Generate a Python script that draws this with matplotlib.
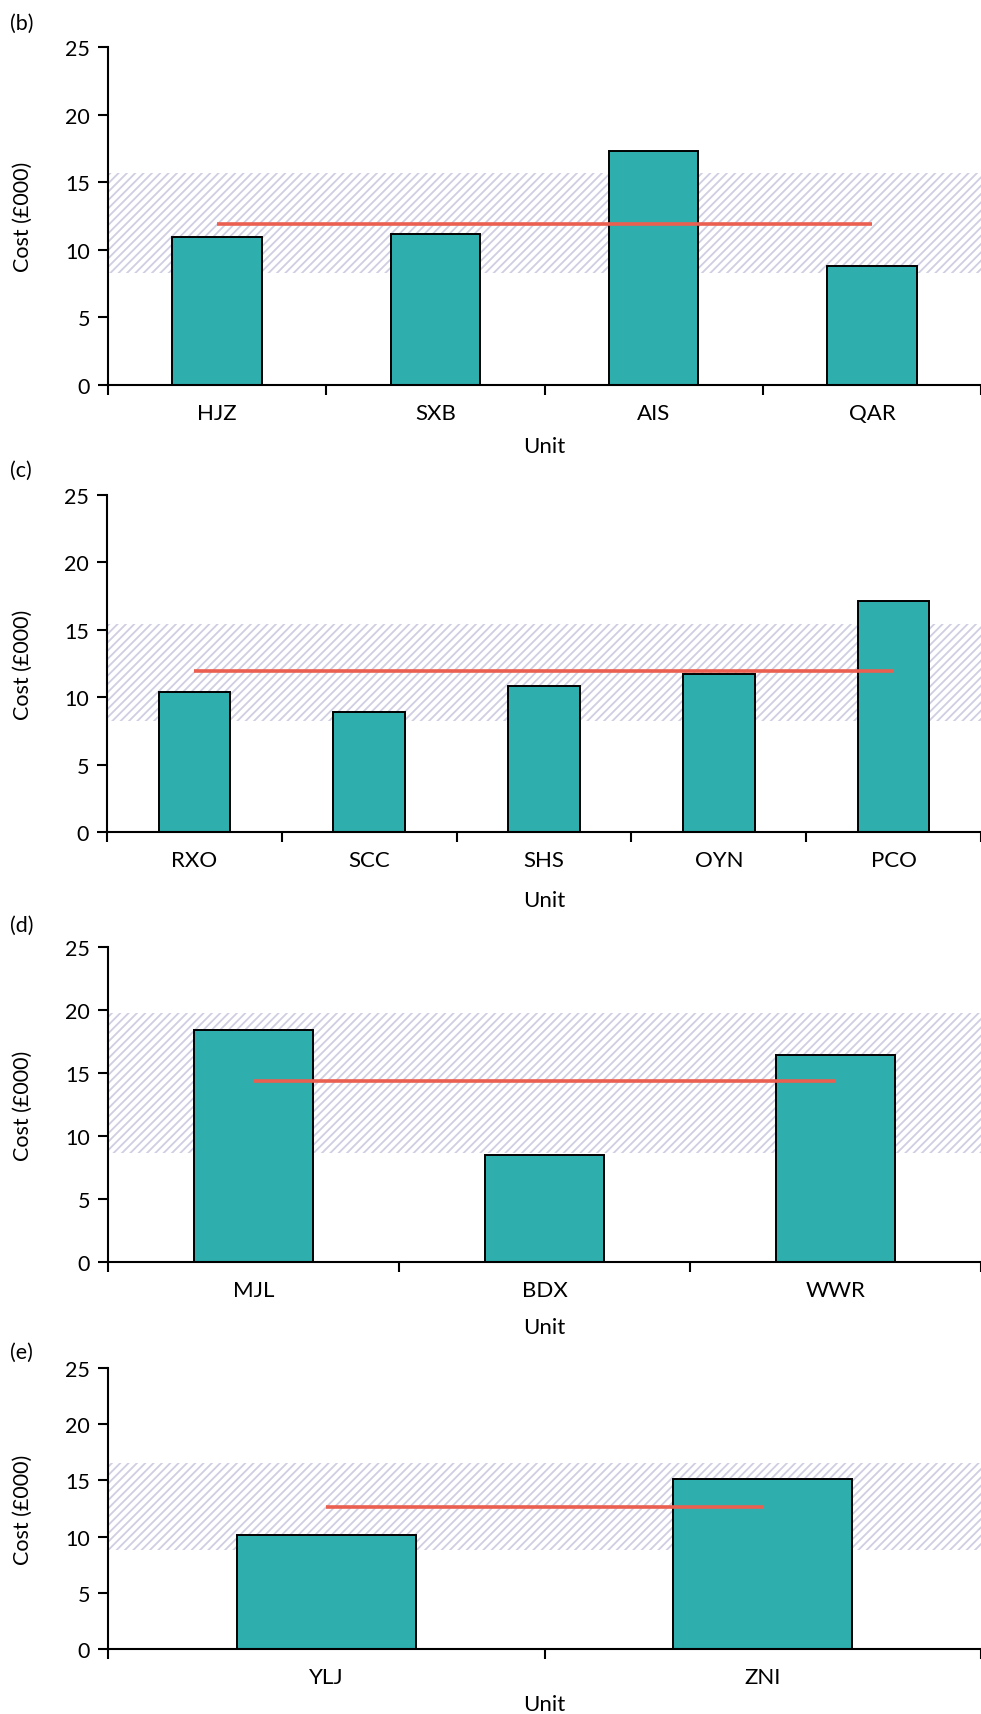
import matplotlib
matplotlib.use("Agg")
import matplotlib.pyplot as plt
import numpy as np

plt.rcParams["font.family"] = ["Lato", "DejaVu Sans"]
plt.rcParams["hatch.linewidth"] = 1.3
plt.rcParams["hatch.color"] = "#cfcee2"

# panel data: units, cost (£000), mean, reference band (low, high)
b_units = ["HJZ", "SXB", "AIS", "QAR"]
b_cost = [10.95, 11.17, 17.3, 8.8]
b_mean = 11.9
b_band = (8.3, 15.7)

c_units = ["RXO", "SCC", "SHS", "OYN", "PCO"]
c_cost = [10.42, 8.89, 10.81, 11.73, 17.16]
c_mean = 11.97
c_band = (8.27, 15.43)

d_units = ["MJL", "BDX", "WWR"]
d_cost = [18.4, 8.46, 16.4]
d_mean = 14.33
d_band = (8.65, 19.79)

e_units = ["YLJ", "ZNI"]
e_cost = [10.14, 15.15]
e_mean = 12.63
e_band = (8.83, 16.57)

W, H = 981, 1715
fig = plt.figure(figsize=(W / 100, H / 100), dpi=100)

# (label, units, cost, mean, band, left, top, bottom, label_y, unit_offset) in pixels
panels = [
    ("(b)", b_units, b_cost, b_mean, b_band, 108, 48, 386, 24, 61),
    ("(c)", c_units, c_cost, c_mean, c_band, 107, 496, 833, 471, 68),
    ("(d)", d_units, d_cost, d_mean, d_band, 108, 948, 1263, 926, 65),
    ("(e)", e_units, e_cost, e_mean, e_band, 108, 1369, 1650, 1353, 55),
]

teal = "#2eaead"
red = "#ea5f4f"

for lab, units, cost, mean, band, left, top, bottom, laby, uoff in panels:
    h = bottom - top
    ax = fig.add_axes([left / W, 1 - bottom / H, (W - left) / W, h / H])
    n = len(units)
    x = np.arange(n)
    ax.axhspan(band[0], band[1], facecolor="none", edgecolor="#cfcee2",
               hatch="////", linewidth=0, zorder=1)
    ax.bar(x, cost, width=0.41, color=teal, edgecolor="black", linewidth=1.4, zorder=2)
    ax.plot([x[0], x[-1]], [mean, mean], color=red, lw=2.6, zorder=3,
            solid_capstyle="butt")
    ax.set_xlim(-0.5, n - 0.5)
    ax.set_ylim(0, 25)
    ax.set_yticks([0, 5, 10, 15, 20, 25])
    ax.set_xticks(np.arange(n + 1) - 0.5)
    ax.set_xticklabels([])
    ax.set_xticks(x, minor=True)
    ax.set_xticklabels(units, minor=True)
    ax.tick_params(axis="x", which="minor", length=0, pad=13, labelsize=16)
    ax.tick_params(axis="x", which="major", length=7, width=1.5)
    ax.tick_params(axis="y", length=7, width=1.5, pad=6, labelsize=15.5)
    for s in ["top", "right"]:
        ax.spines[s].set_visible(False)
    for s in ["left", "bottom"]:
        ax.spines[s].set_linewidth(1.5)
    ax.set_xlabel("Unit", fontsize=16)
    ax.xaxis.set_label_coords(0.5, -uoff / h)
    ax.xaxis.label.set_va("center")
    ax.set_ylabel("Cost (£000)", fontsize=15.5)
    ax.yaxis.set_label_coords(-(left - 23) / (W - left), 0.5)
    ax.yaxis.label.set_va("center")
    fig.text(10 / W, 1 - laby / H, lab, fontsize=15.5, va="center", ha="left")

fig.savefig("out.png", dpi=100)
